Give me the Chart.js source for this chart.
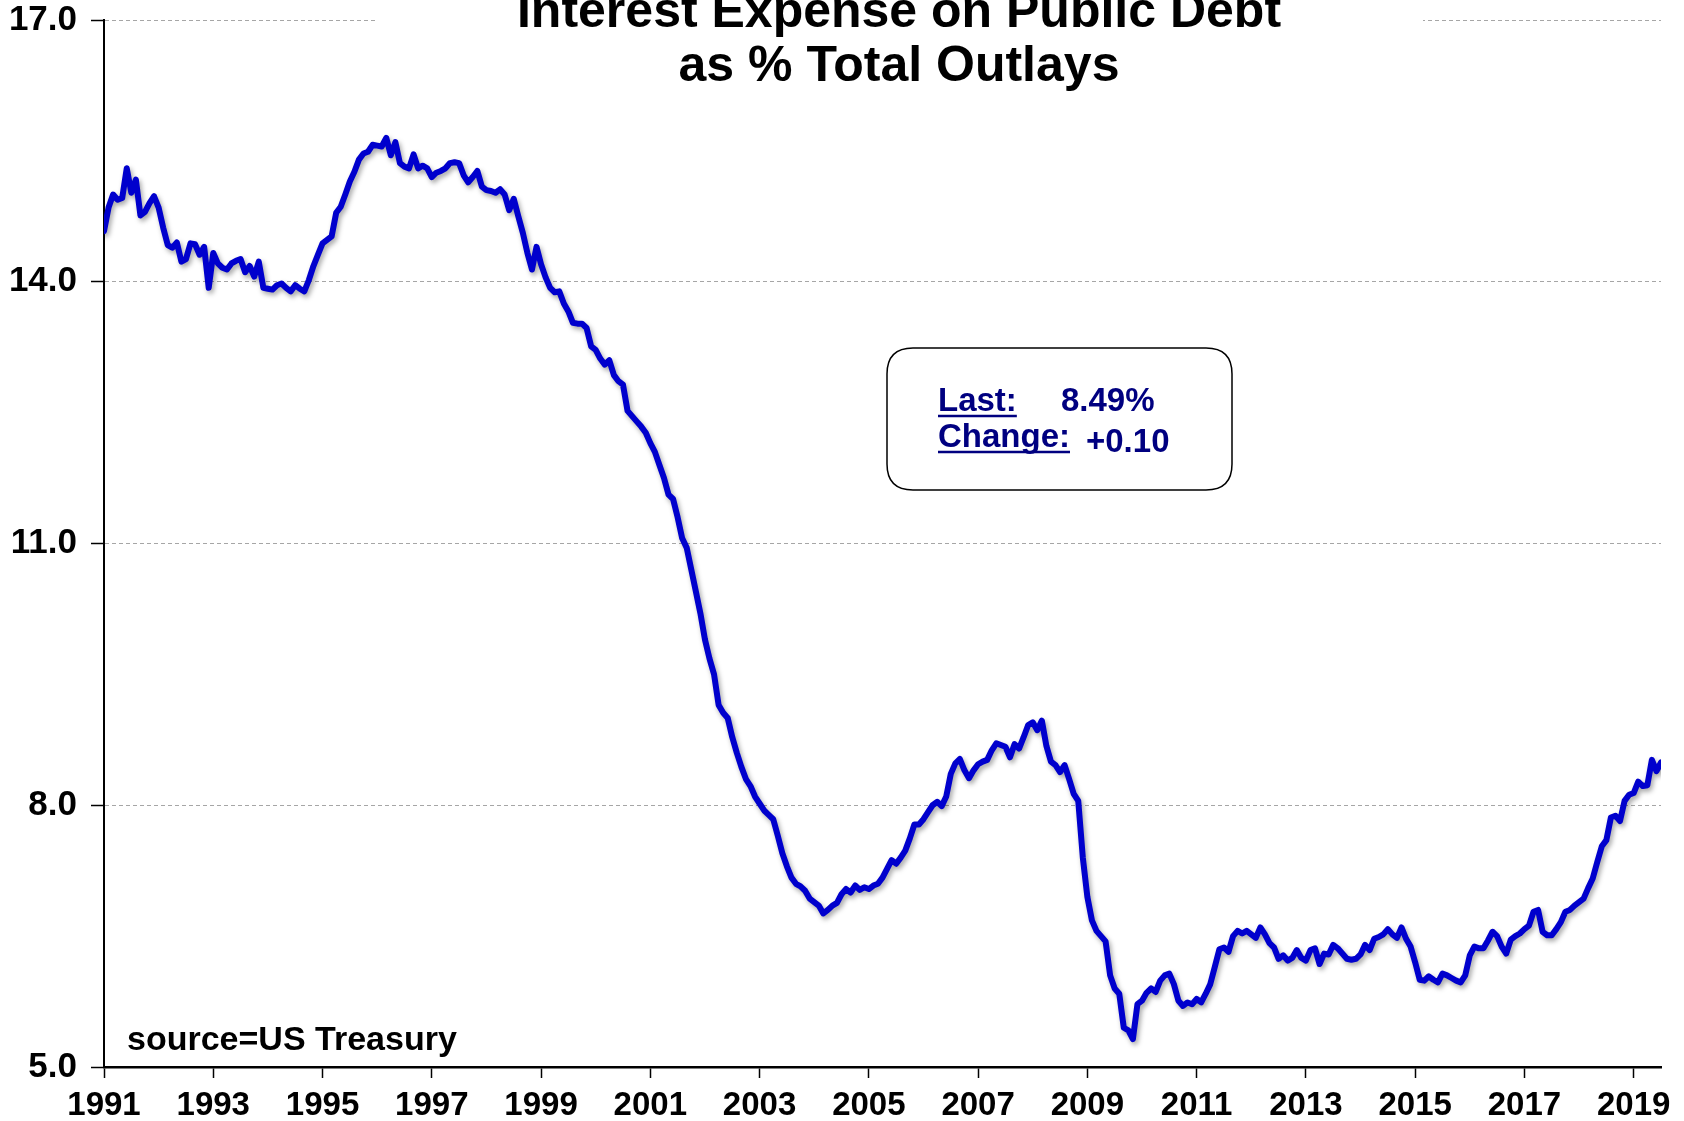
<!DOCTYPE html>
<html>
<head>
<meta charset="utf-8">
<script src="https://cdn.jsdelivr.net/npm/chart.js@4.4.1/dist/chart.umd.min.js"></script>
<style>
  html, body { margin: 0; padding: 0; background: #ffffff; }
  #wrap { width: 1684px; height: 1121px; position: relative; }
</style>
</head>
<body>
<div id="wrap"><canvas id="c"></canvas></div>
<script>
// Monthly values, Jan 1991 .. Jul 2019 (% of total outlays)
const v1991to1995 = [
  14.58, 14.85, 15.00, 14.94, 14.96, 15.30, 15.02, 15.17, 14.76, 14.80, 14.90, 14.98,
  14.85, 14.62, 14.42, 14.39, 14.45, 14.23, 14.26, 14.44, 14.43, 14.31, 14.40, 13.93,
  14.33, 14.21, 14.16, 14.14, 14.21, 14.24, 14.26, 14.11, 14.18, 14.06, 14.23, 13.93,
  13.92, 13.91, 13.96, 13.98, 13.93, 13.89, 13.96, 13.92, 13.89, 14.02, 14.18, 14.31,
  14.44, 14.48, 14.52, 14.79, 14.86, 15.00, 15.15, 15.26, 15.40, 15.47, 15.49, 15.57
];
const v1996to2000 = [
  15.56, 15.55, 15.65, 15.45, 15.60, 15.36, 15.32, 15.30, 15.46, 15.30, 15.33, 15.30,
  15.20, 15.25, 15.27, 15.30, 15.36, 15.37, 15.36, 15.22, 15.14, 15.20, 15.27, 15.09,
  15.05, 15.04, 15.02, 15.06, 15.00, 14.82, 14.95, 14.75, 14.56, 14.33, 14.14, 14.40,
  14.20, 14.05, 13.93, 13.88, 13.89, 13.75, 13.66, 13.53, 13.52, 13.52, 13.47, 13.26,
  13.22, 13.12, 13.05, 13.10, 12.93, 12.86, 12.82, 12.52, 12.46, 12.40, 12.34, 12.27
];
const v2001to2005 = [
  12.15, 12.05, 11.90, 11.75, 11.56, 11.51, 11.30, 11.06, 10.95, 10.70, 10.45, 10.20,
  9.90, 9.68, 9.50, 9.15, 9.06, 9.00, 8.78, 8.60, 8.44, 8.30, 8.22, 8.10,
  8.02, 7.94, 7.89, 7.84, 7.65, 7.45, 7.30, 7.17, 7.10, 7.07, 7.02, 6.93,
  6.89, 6.85, 6.76, 6.80, 6.85, 6.88, 6.98, 7.04, 7.00, 7.08, 7.03, 7.06,
  7.04, 7.08, 7.10, 7.17, 7.27, 7.37, 7.33, 7.40, 7.48, 7.62, 7.78, 7.78
];
const v2006to2010 = [
  7.84, 7.92, 8.00, 8.04, 7.99, 8.10, 8.36, 8.48, 8.53, 8.40, 8.31, 8.40,
  8.47, 8.50, 8.52, 8.63, 8.71, 8.69, 8.67, 8.55, 8.70, 8.65, 8.78, 8.92,
  8.95, 8.86, 8.97, 8.68, 8.50, 8.46, 8.38, 8.46, 8.30, 8.13, 8.05, 7.40,
  6.95, 6.68, 6.56, 6.50, 6.44, 6.05, 5.90, 5.84, 5.45, 5.42, 5.32, 5.72,
  5.76, 5.85, 5.90, 5.86, 5.99, 6.05, 6.07, 5.95, 5.76, 5.70, 5.74, 5.72
];
const v2011to2015 = [
  5.78, 5.74, 5.84, 5.95, 6.15, 6.35, 6.37, 6.32, 6.50, 6.56, 6.53, 6.56,
  6.52, 6.48, 6.60, 6.52, 6.42, 6.37, 6.24, 6.28, 6.22, 6.25, 6.34, 6.25,
  6.22, 6.34, 6.36, 6.18, 6.30, 6.29, 6.40, 6.36, 6.30, 6.24, 6.23, 6.24,
  6.29, 6.40, 6.34, 6.47, 6.49, 6.52, 6.58, 6.52, 6.48, 6.60, 6.47, 6.38,
  6.20, 6.00, 5.99, 6.04, 6.00, 5.97, 6.07, 6.05, 6.02, 5.99, 5.97, 6.05
];
const v2016to2019 = [
  6.28, 6.38, 6.36, 6.36, 6.45, 6.55, 6.50, 6.38, 6.30, 6.46, 6.50, 6.53,
  6.58, 6.62, 6.78, 6.80, 6.55, 6.51, 6.51, 6.58, 6.66, 6.78, 6.80, 6.85,
  6.89, 6.93, 7.05, 7.16, 7.35, 7.53, 7.60, 7.86, 7.88, 7.82, 8.05, 8.12,
  8.14, 8.27, 8.22, 8.23, 8.52, 8.39, 8.49
];
const startYear = 1991;
const yTicks = [5, 8, 11, 14, 17];
const xTickStep = 2;
const titleLines = ["Interest Expense on Public Debt", "as % Total Outlays"];
const sourceText = "source=US Treasury";
const lastLabel = "Last:";
const lastValue = "8.49%";
const changeLabel = "Change:";
const changeValue = "+0.10";

const values = [].concat(v1991to1995, v1996to2000, v2001to2005, v2006to2010, v2011to2015, v2016to2019);
const points = values.map((v, i) => ({ x: startYear + i / 12, y: v }));
const lastX = startYear + (values.length - 1) / 12;

const FONT = "'Liberation Sans', Arial, Helvetica, sans-serif";

const shadowPlugin = {
  id: 'lineShadow',
  beforeDatasetDraw(chart) {
    const ctx = chart.ctx;
    ctx.save();
    ctx.shadowColor = 'rgba(0,0,0,0.35)';
    ctx.shadowBlur = 5;
    ctx.shadowOffsetX = 2;
    ctx.shadowOffsetY = 3;
  },
  afterDatasetDraw(chart) {
    chart.ctx.restore();
  }
};

const overlayPlugin = {
  id: 'overlay',
  afterDraw(chart) {
    const ctx = chart.ctx;
    ctx.save();
    // white title background (interrupts top gridline)
    ctx.fillStyle = '#ffffff';
    ctx.fillRect(376, 0, 1047, 96);
    ctx.fillStyle = '#000000';
    ctx.font = 'bold 50px ' + FONT;
    ctx.textAlign = 'center';
    ctx.textBaseline = 'alphabetic';
    ctx.fillText(titleLines[0], 899, 27);
    ctx.fillText(titleLines[1], 899, 81);

    // source text
    ctx.textAlign = 'left';
    ctx.font = 'bold 34px ' + FONT;
    ctx.fillText(sourceText, 127, 1050);

    // annotation box
    const bx = 887, by = 348, bw = 345, bh = 142, r = 26;
    ctx.beginPath();
    ctx.moveTo(bx + r, by);
    ctx.lineTo(bx + bw - r, by);
    ctx.quadraticCurveTo(bx + bw, by, bx + bw, by + r);
    ctx.lineTo(bx + bw, by + bh - r);
    ctx.quadraticCurveTo(bx + bw, by + bh, bx + bw - r, by + bh);
    ctx.lineTo(bx + r, by + bh);
    ctx.quadraticCurveTo(bx, by + bh, bx, by + bh - r);
    ctx.lineTo(bx, by + r);
    ctx.quadraticCurveTo(bx, by, bx + r, by);
    ctx.closePath();
    ctx.fillStyle = '#ffffff';
    ctx.fill();
    ctx.lineWidth = 1.5;
    ctx.strokeStyle = '#000000';
    ctx.stroke();

    ctx.fillStyle = '#000080';
    ctx.strokeStyle = '#000080';
    ctx.font = 'bold 33px ' + FONT;
    ctx.textAlign = 'left';
    const drawUnder = (t, x, y) => {
      ctx.fillText(t, x, y);
      const w = ctx.measureText(t).width;
      ctx.lineWidth = 2.5;
      ctx.beginPath();
      ctx.moveTo(x, y + 5);
      ctx.lineTo(x + w, y + 5);
      ctx.stroke();
    };
    drawUnder(lastLabel, 938, 411);
    ctx.fillText(lastValue, 1061, 411);
    drawUnder(changeLabel, 938, 447);
    ctx.fillText(changeValue, 1086, 452);
    ctx.restore();
  }
};

new Chart(document.getElementById('c'), {
  type: 'line',
  data: {
    datasets: [{
      data: points,
      borderColor: 'rgb(0,0,205)',
      borderWidth: 6,
      pointRadius: 0,
      tension: 0,
      borderJoinStyle: 'round',
      borderCapStyle: 'round',
      fill: false
    }]
  },
  options: {
    responsive: true,
    maintainAspectRatio: false,
    animation: false,
    devicePixelRatio: 1,
    layout: { padding: { top: 20, right: 23, left: 0, bottom: 0 } },
    plugins: { legend: { display: false }, tooltip: { enabled: false }, title: { display: false } },
    scales: {
      x: {
        type: 'linear',
        min: startYear,
        max: lastX,
        afterFit(scale) { scale.height = 54; scale.paddingLeft = 0; scale.paddingRight = 0; },
        afterBuildTicks(scale) {
          const t = [];
          for (let y = startYear; y <= lastX; y += xTickStep) t.push({ value: y });
          scale.ticks = t;
        },
        ticks: {
          autoSkip: false,
          maxRotation: 0,
          padding: 8,
          color: '#000000',
          font: { family: FONT, size: 33, weight: 'bold' },
          callback: (v) => String(v)
        },
        grid: {
          display: true,
          drawOnChartArea: false,
          drawTicks: true,
          tickLength: 11,
          tickColor: '#000000',
          tickWidth: 1.5
        },
        border: { display: true, color: '#000000', width: 2.5 }
      },
      y: {
        type: 'linear',
        min: 5,
        max: 17,
        afterFit(scale) { scale.width = 104; scale.paddingTop = 0; scale.paddingBottom = 0; },
        afterBuildTicks(scale) { scale.ticks = yTicks.map(v => ({ value: v })); },
        ticks: {
          padding: 14,
          color: '#000000',
          font: { family: FONT, size: 35, weight: 'bold' },
          callback: (v) => Number(v).toFixed(1)
        },
        grid: {
          display: true,
          drawOnChartArea: true,
          drawTicks: true,
          tickLength: 13,
          tickColor: '#000000',
          tickWidth: 1.5,
          lineWidth: 1,
          color: (ctx) => (ctx.tick && ctx.tick.value === 5) ? 'rgba(0,0,0,0)' : '#a6a6a6'
        },
        border: { display: true, color: '#000000', width: 2, dash: [4, 3] }
      }
    }
  },
  plugins: [shadowPlugin, overlayPlugin]
});
</script>
</body>
</html>
